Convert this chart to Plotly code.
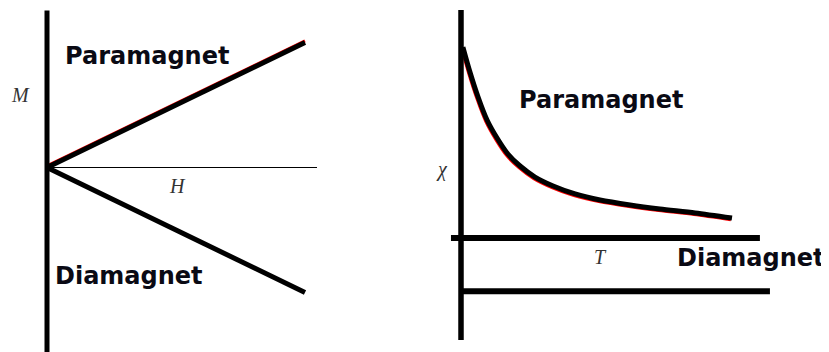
import plotly.graph_objects as go

# ---------------- data ----------------
# Left panel: M vs H
H = [0.0, 1.0]
M_para = [0.0, 1.0]
M_dia = [0.0, -1.0]
H_axis = [0.0, 1.0465]          # extent of the H axis line
M_axis_ext = [-1.48, 1.256]     # extent of the M axis line

# Right panel: chi vs T
T_para = [0.007, 0.033, 0.063, 0.096, 0.133, 0.173, 0.218, 0.273, 0.340,
          0.421, 0.513, 0.624, 0.734, 0.864, 1.0]
chi_para = [1.005, 0.874, 0.742, 0.621, 0.526, 0.442, 0.379, 0.321, 0.274,
            0.232, 0.200, 0.174, 0.153, 0.132, 0.105]
T_dia = [0.0, 1.14]
chi_dia = [-0.28, -0.28]
T_axis = [-0.037, 1.103]        # extent of the T axis line
chi_axis_ext = [-0.537, 1.2]    # extent of the chi axis line

labels = {"para": "Paramagnet", "dia": "Diamagnet",
          "M": "M", "H": "H", "chi": "χ", "T": "T"}

# ---------------- figure ----------------
# the page body has an 8px margin, so the figure is 8px smaller
OX, OY = 8, 8
W, HF = 829 - OX, 352 - OY
fig = go.Figure()

BLACK = "#000000"
RED = "#ff0000"


def xr_for(dom, x0, scale):
    return [(OX + dom[0] * W - x0) / scale, (OX + dom[1] * W - x0) / scale]


def yr_for(dom, y0, scale):
    return [(y0 - (OY + (1 - dom[0]) * HF)) / scale,
            (y0 - (OY + (1 - dom[1]) * HF)) / scale]


dom_l = [0, 0.49]
dom_r = [0.49, 1]
dom_y = [0, 1]

# left: H=0 at page x 47, 258 px/unit ; M=0 at page y 167.5, 125 px/unit
xl = xr_for(dom_l, 47, 258)
yl = yr_for(dom_y, 167.5, 125)
# right: T=0 at page x 461, 271 px/unit ; chi=0 at page y 238, 190 px/unit
xr = xr_for(dom_r, 461, 271)
yr = yr_for(dom_y, 238, 190)

# red under-lines (base axes, shifted ranges)
fig.add_trace(go.Scatter(x=H, y=M_para, mode="lines",
                         line=dict(color=RED, width=3), xaxis="x", yaxis="y"))
fig.add_trace(go.Scatter(x=T_para, y=chi_para, mode="lines",
                         line=dict(color=RED, width=3, shape="spline", smoothing=0.8),
                         xaxis="x2", yaxis="y2"))

# black marks (overlay axes, true ranges)
fig.add_trace(go.Scatter(x=[0, 0], y=M_axis_ext, mode="lines",
                         line=dict(color=BLACK, width=5), xaxis="x3", yaxis="y3"))
fig.add_trace(go.Scatter(x=H_axis, y=[0, 0], mode="lines",
                         line=dict(color=BLACK, width=1), xaxis="x3", yaxis="y3"))
fig.add_trace(go.Scatter(x=H, y=M_para, mode="lines",
                         line=dict(color=BLACK, width=5), xaxis="x3", yaxis="y3"))
fig.add_trace(go.Scatter(x=H, y=M_dia, mode="lines",
                         line=dict(color=BLACK, width=5), xaxis="x3", yaxis="y3"))

fig.add_trace(go.Scatter(x=[0, 0], y=chi_axis_ext, mode="lines",
                         line=dict(color=BLACK, width=5.5), xaxis="x4", yaxis="y4"))
fig.add_trace(go.Scatter(x=T_axis, y=[0, 0], mode="lines",
                         line=dict(color=BLACK, width=6), xaxis="x4", yaxis="y4"))
fig.add_trace(go.Scatter(x=T_dia, y=chi_dia, mode="lines",
                         line=dict(color=BLACK, width=6), xaxis="x4", yaxis="y4"))
fig.add_trace(go.Scatter(x=T_para, y=chi_para, mode="lines",
                         line=dict(color=BLACK, width=5, shape="spline", smoothing=0.8),
                         xaxis="x4", yaxis="y4"))

hid = dict(visible=False, fixedrange=True)
dl = 1.6 / 125    # red shifted up on left
dr_y = 1.6 / 190  # red shifted down on right
dr_x = 1.2 / 271  # red shifted left on right
fig.update_layout(
    width=W, height=HF,
    margin=dict(l=0, r=0, t=0, b=0),
    paper_bgcolor="white", plot_bgcolor="white",
    showlegend=False,
    xaxis=dict(domain=dom_l, range=xl, anchor="y", **hid),
    yaxis=dict(domain=dom_y, range=[yl[0] - dl, yl[1] - dl], anchor="x", **hid),
    xaxis2=dict(domain=dom_r, range=[xr[0] + dr_x, xr[1] + dr_x], anchor="y2", **hid),
    yaxis2=dict(domain=dom_y, range=[yr[0] + dr_y, yr[1] + dr_y], anchor="x2", **hid),
    xaxis3=dict(domain=dom_l, range=xl, anchor="y3", overlaying="x", **hid),
    yaxis3=dict(domain=dom_y, range=yl, anchor="x3", overlaying="y", **hid),
    xaxis4=dict(domain=dom_r, range=xr, anchor="y4", overlaying="x2", **hid),
    yaxis4=dict(domain=dom_y, range=yr, anchor="x4", overlaying="y2", **hid),
)

bold = dict(family="DejaVu Sans", size=24, color="#0a0a14", weight="bold")
ital = dict(family="Liberation Serif", size=20, color="#333333", style="italic")


def px(x, y):
    return (x - OX) / W, 1 - (y - OY) / HF


def ann(text, x, y, font, xanchor="left"):
    xp, yp = px(x, y)
    fig.add_annotation(text=text, x=xp, y=yp, xref="paper", yref="paper",
                       xanchor=xanchor, yanchor="middle", showarrow=False,
                       font=font, borderpad=0)


ann(labels["para"], 64, 56, bold)
ann(labels["dia"], 54, 276, bold)
ann(labels["para"], 518, 100, bold)
ann(labels["dia"], 676, 258, bold)
ann(labels["M"], 20, 95, ital, "center")
ann(labels["H"], 177, 186, ital, "center")
ann(labels["chi"], 442, 170, ital, "center")
ann(labels["T"], 600, 257, ital, "center")

fig.write_html("out.html")
